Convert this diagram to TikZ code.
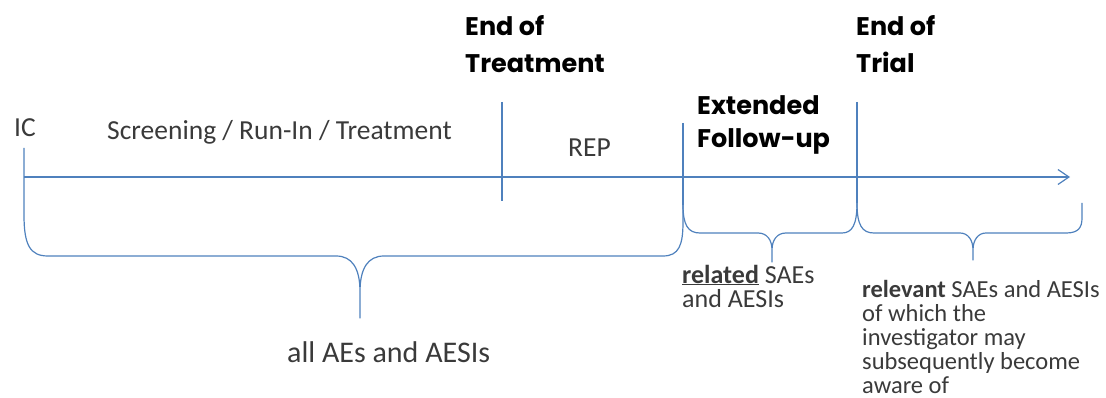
\documentclass[tikz,border=0pt]{standalone}
\usepackage{fontspec}
\setmainfont{Carlito}
\newfontfamily\hdrfont{Poppins}
\usetikzlibrary{arrows.meta}
\definecolor{lineblue}{HTML}{4F81BD}
\definecolor{txt}{HTML}{3A3A3A}
\begin{document}
\begin{tikzpicture}[x=1pt,y=-1pt,
  line/.style={draw=lineblue, line width=1.2pt, line join=round},
  reg/.style={font=\fontsize{27.5}{33}\selectfont, text=txt, inner sep=0pt},
  hdr/.style={font=\hdrfont\bfseries\fontsize{25.5}{37}\selectfont, text=black, inner sep=0pt, align=left},
  smalltxt/.style={font=\fontsize{24.5}{24}\selectfont, text=txt, inner sep=0pt, align=left}]
\useasboundingbox (0,0) rectangle (1106,398);
% coordinates
\coordinate (ICtop) at (24,148);
\coordinate (tl0) at (24,177);
\coordinate (tl1) at (1070,177);
\coordinate (EoTtop) at (502,102);
\coordinate (EoTbot) at (502,201);
\coordinate (EFtop) at (683,123);
\coordinate (EFbot) at (683,205);
\coordinate (ETtop) at (857,102);
\coordinate (ETbot) at (857,203);
\coordinate (REend) at (1082,203);
% timeline
\draw[line, -{Straight Barb[length=11pt,width=15pt]}] (tl0) -- (tl1);
% ticks
\draw[line] (EoTtop) -- (EoTbot);
\draw[line] (EFtop) -- (EFbot);
\draw[line] (ETtop) -- (ETbot);
% big brace
\draw[line] (ICtop) -- (24,215) .. controls (24,245) and (30,256) .. (48,256)
  -- (336,256) .. controls (352,256) and (360,268) .. (360,292) -- (360,318)
  -- (360,292) .. controls (360,268) and (368,256) .. (384,256)
  -- (663,256) .. controls (679,256) and (683,245) .. (683,222) -- (EFbot);
% second brace
\draw[line] (EFbot) .. controls (683,225) and (688,233) .. (700,233)
  -- (758,233) .. controls (767,233) and (772,240) .. (772,250) -- (772,262)
  -- (772,250) .. controls (772,240) and (777,233) .. (786,233)
  -- (842,233) .. controls (852,233) and (857,225) .. (ETbot);
% third brace
\draw[line] (ETbot) .. controls (857,225) and (862,233) .. (874,233)
  -- (960,233) .. controls (968,233) and (973,240) .. (973,250) -- (973,260)
  -- (973,250) .. controls (973,240) and (978,233) .. (986,233)
  -- (1066,233) .. controls (1078,233) and (1082,228) .. (1082,218) -- (REend);
% texts (multi-line nodes: base = baseline of last line)
\node[reg, anchor=base west] (ic) at (14,137) {IC};
\node[reg, anchor=base west] (scr) at (107,140) {Screening / Run-In / Treatment};
\node[reg, anchor=base west] (rep) at (568,157) {REP};
\node[hdr, anchor=base west] (eot) at (465,73) {End of\\Treatment};
\node[hdr, anchor=base west, font=\hdrfont\bfseries\fontsize{25.5}{33}\selectfont] (ef) at (697,148) {Extended\\Follow-up};
\node[hdr, anchor=base west] (et) at (856,73) {End of\\Trial};
\node[reg, anchor=base west, font=\fontsize{30}{36}\selectfont] (all) at (287,362) {all AEs and AESIs};
\node[smalltxt, anchor=base west, font=\fontsize{26}{24}\selectfont] (rel) at (682,307) {\underline{\textbf{related}} SAEs\\and AESIs};
\node[smalltxt, anchor=base west] (rlv) at (862,393) {\textbf{relevant} SAEs and AESIs\\of which the\\investigator may\\subsequently become\\aware of};
\end{tikzpicture}
\end{document}
